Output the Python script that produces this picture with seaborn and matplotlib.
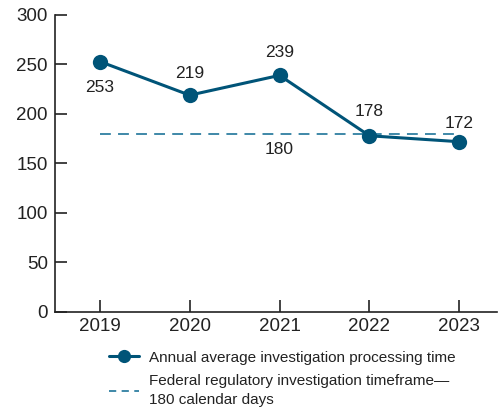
import matplotlib
matplotlib.use("Agg")
import matplotlib.pyplot as plt
import seaborn as sns
import pandas as pd
from matplotlib.lines import Line2D

# data
years = [2019, 2020, 2021, 2022, 2023]
avg_days = [253, 219, 239, 178, 172]
federal_limit = 180

line_color = "#005478"
dash_color = "#2f7fa1"

sns.set_style("ticks")
plt.rcParams["font.family"] = ["Liberation Sans", "DejaVu Sans"]

df = pd.DataFrame({"year": years, "days": avg_days})

fig = plt.figure(figsize=(4.99, 4.13), dpi=100)
ax = fig.add_axes([0.110, 0.2446, 0.886, 0.7191])

ax.plot([years[0], years[-1]], [federal_limit, federal_limit], color=dash_color,
        lw=1.3, ls=(0, (6, 4)), zorder=1)
sns.lineplot(data=df, x="year", y="days", ax=ax, color=line_color, lw=2.2,
             marker="o", markersize=11, markeredgewidth=0, zorder=3)

ax.set_xlim(2018.5, 2023.42)
ax.set_ylim(0, 300)
ax.set_xticks(years)
ax.set_yticks(range(0, 301, 50))
ax.set_xlabel("")
ax.set_ylabel("")
sns.despine(ax=ax)
for s in ["left", "bottom"]:
    ax.spines[s].set_linewidth(1.2)
    ax.spines[s].set_color("#222222")
ax.tick_params(axis="y", direction="in", length=8.6, width=1.2, labelsize=13.5,
               colors="#222222", pad=5)
ax.tick_params(axis="x", direction="in", length=8.6, width=1.2, labelsize=13.5,
               colors="#222222", pad=4)

# point labels (offsets in points)
offsets = [-18.7, 15.8, 16.6, 17.3, 13]
for x, y, off in zip(years, avg_days, offsets):
    ax.annotate(str(y), (x, y), xytext=(0, off), textcoords="offset points",
                ha="center", va="center", fontsize=12.5, color="#222222")
ax.annotate(str(federal_limit), (2021, federal_limit), xytext=(0, -11.5),
            textcoords="offset points", ha="center", va="center",
            fontsize=12.5, color="#222222")

handles = [
    Line2D([], [], color=line_color, lw=2.2, marker="o", markersize=9.5, markeredgewidth=0),
    Line2D([], [], color=dash_color, lw=1.3, ls=(0, (4, 3))),
]
labels = ["Annual average investigation processing time",
          "Federal regulatory investigation timeframe\u2014\n180 calendar days"]
leg = fig.legend(handles, labels, loc="upper left", bbox_to_anchor=(0.206, 0.166),
                 frameon=False, fontsize=11, handlelength=2.0, handletextpad=0.6,
                 borderaxespad=0, labelspacing=0.6, labelcolor="#222222")
for t in leg.get_texts():
    t.set_linespacing(1.5)

fig.savefig("out.png", dpi=100)
